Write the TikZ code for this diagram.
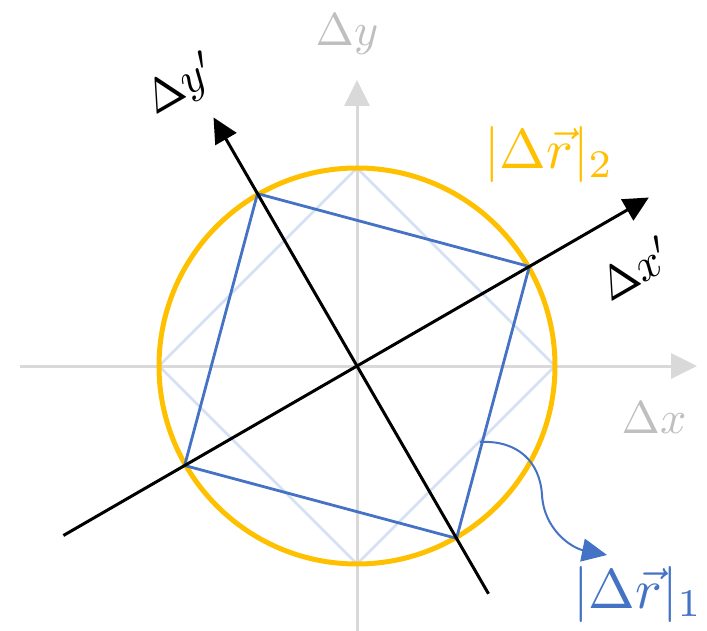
\documentclass[tikz,border=0pt]{standalone}
\usetikzlibrary{arrows.meta}
\definecolor{ogold}{HTML}{FFC000}
\definecolor{oblue}{HTML}{4472C4}
\definecolor{lblue}{HTML}{D5E0F3}
\definecolor{axgray}{HTML}{D9D9D9}
\definecolor{txgray}{HTML}{BFBFBF}
\tikzset{
  grayaxis/.style={draw=axgray, line width=3pt, -{Triangle[length=26pt,width=25pt]}},
  blackaxis/.style={draw=black, line width=3pt, -{Triangle[length=25pt,width=24pt]}},
  lbl/.style={inner sep=0pt, scale=4.6},
  biglbl/.style={inner sep=0pt, scale=5.6},
}
\begin{document}
\begin{tikzpicture}[x=1pt,y=-1pt]
\useasboundingbox (0,0) rectangle (707,631);
\coordinate (O) at (357,366);
% gray axes
\coordinate (xs) at (20,366);
\coordinate (xe) at (697,366);
\coordinate (ys) at (357,631);
\coordinate (ye) at (357,80);
\draw[grayaxis] (xs) -- (xe);
\draw[grayaxis] (ys) -- (ye);
% light diamond
\coordinate (d1) at (555,366);
\coordinate (d2) at (357,168);
\coordinate (d3) at (159,366);
\coordinate (d4) at (357,564);
\draw[lblue, line width=2.5pt, line join=round] (d1) -- (d2) -- (d3) -- (d4) -- cycle;
% circle
\draw[ogold, line width=5pt] (O) circle[radius=198];
% rotated square
\path (O) ++(-30:199) coordinate (s1);
\path (O) ++(-120:199) coordinate (s2);
\path (O) ++(150:199) coordinate (s3);
\path (O) ++(60:199) coordinate (s4);
\draw[oblue, line width=2.8pt, line join=round] (s1) -- (s2) -- (s3) -- (s4) -- cycle;
% black axes
\path (O) ++(150:339) coordinate (xps);
\path (O) ++(-30:337) coordinate (xpe);
\path (O) ++(60:263) coordinate (yps);
\path (O) ++(-120:287) coordinate (ype);
\draw[blackaxis] (xps) -- (xpe);
\draw[blackaxis] (yps) -- (ype);
% labels
\node[lbl, text=txgray] (ly) at (347,34) {$\Delta y$};
\node[lbl, text=txgray] (lx) at (654,418) {$\Delta x$};
\node[lbl, rotate=30] (lyp) at (182,86) {$\Delta y'$};
\node[lbl, rotate=30] (lxp) at (635,268) {$\Delta x'$};
\node[biglbl, text=ogold] (r2) at (549,155) {$|\Delta\vec{r}|_2$};
\node[biglbl, text=oblue] (r1) at (638,594) {$|\Delta\vec{r}|_1$};
% curved pointer
\coordinate (cs) at (480,442);
\coordinate (cm) at (542,495);
\coordinate (ce) at (607,555);
\draw[oblue, line width=2pt, -{Triangle[length=25pt,width=23pt]}]
  (cs) .. controls (518,440) and (540,462) .. (cm)
       .. controls (544,530) and (572,548) .. (ce);
\end{tikzpicture}
\end{document}
